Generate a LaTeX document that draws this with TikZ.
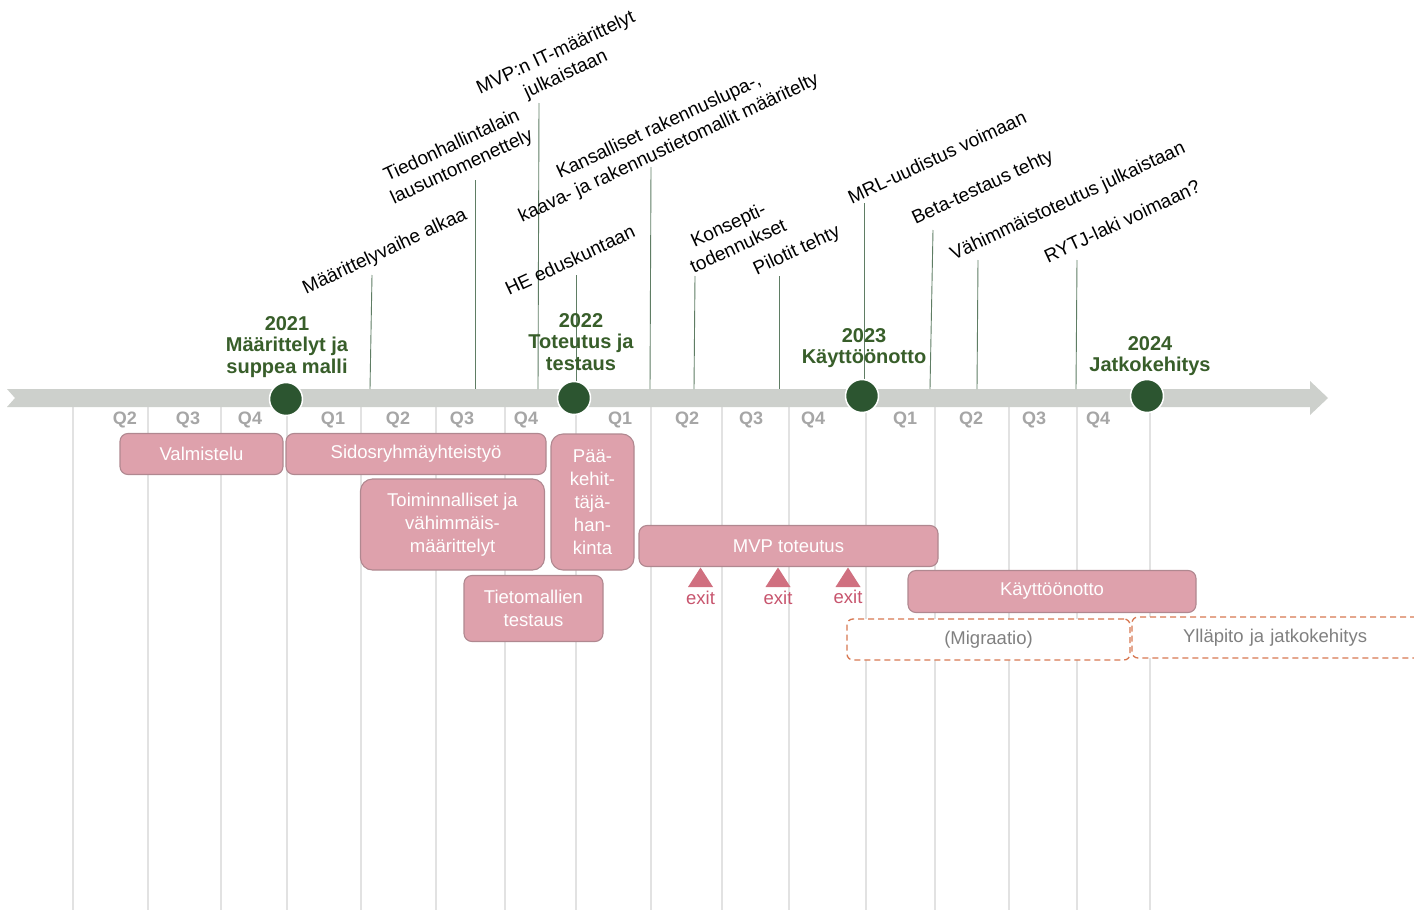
\documentclass[tikz,border=0pt]{standalone}
\usepackage{fontspec}
\setmainfont{Liberation Sans}
\definecolor{bandgray}{RGB}{205,208,204}
\definecolor{gridgray}{RGB}{226,226,226}
\definecolor{mslinecol}{RGB}{95,125,100}
\definecolor{dkgreen}{RGB}{44,85,48}
\definecolor{yeargreen}{RGB}{56,94,42}
\definecolor{qgray}{RGB}{166,166,166}
\definecolor{boxpink}{RGB}{222,161,172}
\definecolor{boxedge}{RGB}{176,136,144}
\definecolor{exitfill}{RGB}{208,112,128}
\definecolor{exittext}{RGB}{200,85,110}
\definecolor{dashorange}{RGB}{216,120,82}
\definecolor{graytext}{RGB}{128,128,128}
\begin{document}
\begin{tikzpicture}[x=1pt,y=-1pt,
  mstext/.style={rotate=25, align=center, inner sep=0pt, font=\fontsize{19}{23.5}\selectfont},
  msline/.style={draw=mslinecol, line width=0.9pt},
  gridline/.style={draw=gridgray, line width=1.1pt},
  qlab/.style={text=qgray, inner sep=0pt, font=\fontsize{18}{20}\selectfont\bfseries},
  yearlab/.style={text=yeargreen, align=center, inner sep=0pt, font=\fontsize{20}{21.5}\selectfont\bfseries},
  yeardot/.style={circle, fill=dkgreen, draw=white, line width=1.5pt, minimum size=33pt, inner sep=0pt},
  phase/.style={rectangle, rounded corners=8pt, fill=boxpink, draw=boxedge, line width=1.1pt, text=white, align=center, inner sep=0pt, font=\fontsize{18.5}{23}\selectfont},
  planned/.style={rectangle, rounded corners=6pt, fill=white, draw=dashorange, dash pattern=on 6pt off 4pt, line width=1.3pt, text=graytext, inner sep=0pt, font=\fontsize{18.5}{23}\selectfont},
  exitlab/.style={text=exittext, inner sep=0pt, font=\fontsize{18.5}{22}\selectfont}
]
\clip (0,0) rectangle (1414,910);
\fill[white] (0,0) rectangle (1414,910);

% quarter grid below the axis
\foreach \gx in {73,148,221,287,361,436,505,576,651,722,789,866,935,1009,1077,1150}
  \draw[gridline] (\gx,407) -- (\gx,910);

% time axis
\fill[bandgray] (7,389) -- (1310,389) -- (1310,381) -- (1328,398) -- (1310,415)
  -- (1310,407) -- (7,407) -- (15,398) -- cycle;

% milestone leader lines
\coordinate (m1t) at (372,275);  \coordinate (m1b) at (370,389);
\coordinate (m2t) at (475,180);  \coordinate (m2b) at (475,389);
\coordinate (m3t) at (539,103);  \coordinate (m3b) at (538,389);
\coordinate (m4t) at (576,275);  \coordinate (m4b) at (576,398);
\coordinate (m5t) at (651,167);  \coordinate (m5b) at (650,389);
\coordinate (m6t) at (695,276);  \coordinate (m6b) at (694,389);
\coordinate (m7t) at (779,276);  \coordinate (m7b) at (779,389);
\coordinate (m8t) at (864,203);  \coordinate (m8b) at (864,396);
\coordinate (m9t) at (933,230);  \coordinate (m9b) at (930,389);
\coordinate (m10t) at (978,260); \coordinate (m10b) at (977,389);
\coordinate (m11t) at (1077,260);\coordinate (m11b) at (1076,389);
\foreach \i in {1,...,11} \draw[msline] (m\i t) -- (m\i b);

% year dots
\node[yeardot] (y21) at (286,399) {};
\node[yeardot] (y22) at (574,398) {};
\node[yeardot] (y23) at (862,396) {};
\node[yeardot] (y24) at (1147,396) {};

% year captions
\node[yearlab] (t21) at (287,347) {2021\\Määrittelyt ja\\suppea malli};
\node[yearlab] (t22) at (581,342) {2022\\Toteutus ja\\testaus};
\node[yearlab] (t23) at (864,348) {2023\\Käyttöönotto};
\node[yearlab] (t24) at (1150,356) {2024\\Jatkokehitys};

% quarters
\foreach \qx/\qn [count=\k] in {125/Q2,188/Q3,250/Q4,333/Q1,398/Q2,462/Q3,526/Q4,620/Q1,687/Q2,751/Q3,813/Q4,905/Q1,971/Q2,1034/Q3,1098/Q4}
  \node[qlab] (q\k) at (\qx,420) {\qn};

% milestone texts
\node[mstext] (l1) at (385,252) {Määrittelyvaihe alkaa};
\node[mstext] (l2) at (457,157) {Tiedonhallintalain\\lausuntomenettely};
\node[mstext] (l3) at (561,64) {MVP:n IT-määrittelyt\\julkaistaan};
\node[mstext] (l4) at (664,138) {Kansalliset rakennuslupa-,\\kaava- ja rakennustietomallit määritelty};
\node[mstext] (l5) at (570,260) {HE eduskuntaan};
\node[mstext] (l6) at (733,235) {Konsepti-\\todennukset};
\node[mstext] (l7) at (797,251) {Pilotit tehty};
\node[mstext] (l8) at (937,157) {MRL-uudistus voimaan};
\node[mstext] (l9) at (983,188) {Beta-testaus tehty};
\node[mstext] (l10) at (1068,202) {Vähimmäistoteutus julkaistaan};
\node[mstext] (l11) at (1122,221) {RYTJ-laki voimaan?};

% work phases
\node[phase, minimum width=163pt, minimum height=41pt] (valm) at (201.5,454) {Valmistelu};
\node[phase, minimum width=260pt, minimum height=41pt] (sidos) at (416,454) {Sidosryhmäyhteistyö};
\node[phase, rounded corners=12pt, minimum width=184pt, minimum height=91pt] (toim) at (452.5,524.5) {Toiminnalliset ja\\vähimmäis-\\määrittelyt};
\node[phase, rounded corners=12pt, minimum width=83pt, minimum height=136pt] (paak) at (592.5,502) {Pää-\\kehit-\\täjä-\\han-\\kinta};
\node[phase, minimum width=139pt, minimum height=66pt] (tieto) at (533.5,608.5) {Tietomallien\\testaus};
\node[phase, minimum width=299pt, minimum height=41pt] (mvp) at (788.5,546) {MVP toteutus};
\node[phase, minimum width=288pt, minimum height=42pt] (kayt) at (1052,591.5) {Käyttöönotto};
\node[planned, minimum width=283pt, minimum height=41pt] (migr) at (988.5,639.5) {(Migraatio)};
\node[planned, minimum width=320pt, minimum height=41pt, text width=320pt, align=left] (yllap) at (1292,637.5) {\hspace*{51pt}Ylläpito ja jatkokehitys};

% exit points of the MVP phase
\foreach \ex/\ey [count=\k] in {700.5/597.5,778/598,848/597}{
  \fill[exitfill] (\ex-12.5,587) -- (\ex,567.5) -- (\ex+12.5,587) -- cycle;
  \node[exitlab] (exit\k) at (\ex,\ey) {exit};
}
\end{tikzpicture}
\end{document}
